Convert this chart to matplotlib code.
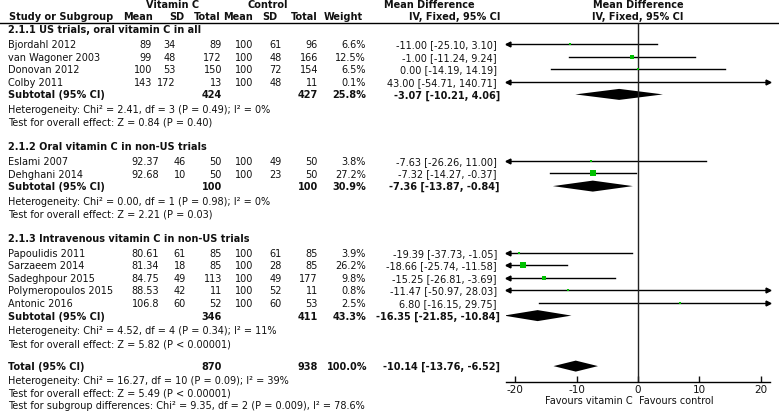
import numpy as np
import matplotlib.pyplot as plt

plt.rcParams['font.family'] = 'DejaVu Sans'

# Datos del forest plot
group_titles = ['2.1.1 US trials, oral vitamin C in all',
                '2.1.2 Oral vitamin C in non-US trials',
                '2.1.3 Intravenous vitamin C in non-US trials']
studies = ['Bjordahl 2012', 'van Wagoner 2003', 'Donovan 2012', 'Colby 2011',
           'Eslami 2007', 'Dehghani 2014',
           'Papoulidis 2011', 'Sarzaeem 2014', 'Sadeghpour 2015',
           'Polymeropoulos 2015', 'Antonic 2016']
study_group = [0, 0, 0, 0, 1, 1, 2, 2, 2, 2, 2]
vc_mean = [89, 99, 100, 143, 92.37, 92.68, 80.61, 81.34, 84.75, 88.53, 106.8]
vc_sd = [34, 48, 53, 172, 46, 10, 61, 18, 49, 42, 60]
vc_n = [89, 172, 150, 13, 50, 50, 85, 85, 113, 11, 52]
ct_mean = [100, 100, 100, 100, 100, 100, 100, 100, 100, 100, 100]
ct_sd = [61, 48, 72, 48, 49, 23, 61, 28, 49, 52, 60]
ct_n = [96, 166, 154, 11, 50, 50, 85, 85, 177, 11, 53]
weight = [6.6, 12.5, 6.5, 0.1, 3.8, 27.2, 3.9, 26.2, 9.8, 0.8, 2.5]
md = [-11.00, -1.00, 0.00, 43.00, -7.63, -7.32, -19.39, -18.66, -15.25, -11.47, 6.80]
ci_lo = [-25.10, -11.24, -14.19, -54.71, -26.26, -14.27, -37.73, -25.74, -26.81, -50.97, -16.15]
ci_hi = [3.10, 9.24, 14.19, 140.71, 11.00, -0.37, -1.05, -11.58, -3.69, 28.03, 29.75]

sub_n_vc = [424, 100, 346]
sub_n_ct = [427, 100, 411]
sub_weight = [25.8, 30.9, 43.3]
sub_md = [-3.07, -7.36, -16.35]
sub_lo = [-10.21, -13.87, -21.85]
sub_hi = [4.06, -0.84, -10.84]
sub_het = ['Heterogeneity: Chi² = 2.41, df = 3 (P = 0.49); I² = 0%',
           'Heterogeneity: Chi² = 0.00, df = 1 (P = 0.98); I² = 0%',
           'Heterogeneity: Chi² = 4.52, df = 4 (P = 0.34); I² = 11%']
sub_test = ['Test for overall effect: Z = 0.84 (P = 0.40)',
            'Test for overall effect: Z = 2.21 (P = 0.03)',
            'Test for overall effect: Z = 5.82 (P < 0.00001)']

total_n_vc = 870
total_n_ct = 938
total_weight = 100.0
total_md, total_lo, total_hi = -10.14, -13.76, -6.52
total_notes = ['Heterogeneity: Chi² = 16.27, df = 10 (P = 0.09); I² = 39%',
               'Test for overall effect: Z = 5.49 (P < 0.00001)',
               'Test for subgroup differences: Chi² = 9.35, df = 2 (P = 0.009), I² = 78.6%']

xticks = [-20, -10, 0, 10, 20]

# Layout (pixeles)
W, H = 779, 415
fs = 7
col = '#111111'
green = '#00c000'
mean_x = [152, 159, 159]
sd_x = [176, 186, 186]
XMIN, XMAX = -21.5, 21.5
axis_y = 382

fig = plt.figure(figsize=(W / 100, H / 100), dpi=100)
ax = fig.add_axes([0, 0, 1, 1])
ax.set_xlim(0, W)
ax.set_ylim(H, 0)
ax.axis('off')

fx = fig.add_axes([506 / W, 0, 264 / W, 1])
fx.set_xlim(XMIN, XMAX)
fx.set_ylim(H, 0)
fx.patch.set_visible(False)
for s in ['left', 'right', 'top']:
    fx.spines[s].set_visible(False)
fx.spines['bottom'].set_position(('data', axis_y))
fx.spines['bottom'].set_linewidth(1)
fx.set_yticks([])
fx.set_xticks(xticks)
fx.set_xticklabels([str(t) for t in xticks])
fx.tick_params(axis='x', direction='in', length=4, width=1, labelsize=7.5, pad=2, colors=col)


def txt(x, y, s, ha='left', bold=False):
    ax.text(x, y, s, ha=ha, va='center', fontsize=fs, color=col,
            fontweight='bold' if bold else 'normal')


def diamond(y, m, lo, hi, h=5.5):
    fx.fill([lo, m, hi, m], [y, y - h, y, y + h], color='black', lw=0)


# Encabezados
txt(173, 5, 'Vitamin C', 'center', True)
txt(268, 5, 'Control', 'center', True)
txt(475, 5, 'Mean Difference', 'right', True)
fx.text(0, 5, 'Mean Difference', ha='center', va='center', fontsize=fs, fontweight='bold', color=col)
txt(9, 17, 'Study or Subgroup', 'left', True)
for x, s in zip([153, 184, 221, 253, 277, 318, 363],
                ['Mean', 'SD', 'Total', 'Mean', 'SD', 'Total', 'Weight']):
    txt(x, 17, s, 'right', True)
txt(500, 17, 'IV, Fixed, 95% CI', 'right', True)
fx.text(0, 17, 'IV, Fixed, 95% CI', ha='center', va='center', fontsize=fs, fontweight='bold', color=col)
ax.plot([0, W], [23, 23], color='black', lw=1)

y = 30
for g in range(3):
    txt(8, y, group_titles[g], bold=True)
    y += 15
    for i in [k for k in range(len(studies)) if study_group[k] == g]:
        txt(8, y, studies[i])
        txt(mean_x[g], y, f'{vc_mean[i]:g}', 'right')
        txt(sd_x[g], y, str(vc_sd[i]), 'right')
        txt(222, y, str(vc_n[i]), 'right')
        txt(253, y, str(ct_mean[i]), 'right')
        txt(282, y, str(ct_sd[i]), 'right')
        txt(318, y, str(ct_n[i]), 'right')
        txt(366, y, f'{weight[i]:.1f}%', 'right')
        txt(497, y, f'{md[i]:.2f} [{ci_lo[i]:.2f}, {ci_hi[i]:.2f}]', 'right')
        # linea del IC
        yl = y - 1
        lo = max(ci_lo[i], XMIN)
        hi = min(ci_hi[i], XMAX)
        fx.plot([lo, hi], [yl, yl], color='black', lw=1)
        if ci_lo[i] < XMIN:
            fx.plot(XMIN + 0.4, yl, marker='<', ms=3.5, color='black', clip_on=False)
        if ci_hi[i] > XMAX:
            fx.plot(XMAX - 0.4, yl, marker='>', ms=3.5, color='black', clip_on=False)
        side = max(2.2, 1.15 * np.sqrt(weight[i]))
        fx.scatter(md[i], yl, marker='s', s=(side * 0.72) ** 2, color=green, lw=0, zorder=3)
        y += 12.6
    txt(8, y, 'Subtotal (95% CI)', bold=True)
    txt(222, y, str(sub_n_vc[g]), 'right', True)
    txt(318, y, str(sub_n_ct[g]), 'right', True)
    txt(366, y, f'{sub_weight[g]:.1f}%', 'right', True)
    txt(500, y, f'{sub_md[g]:.2f} [{sub_lo[g]:.2f}, {sub_hi[g]:.2f}]', 'right', True)
    diamond(y - 1, sub_md[g], sub_lo[g], sub_hi[g])
    y += 14.5
    txt(8, y, sub_het[g])
    y += 13
    txt(8, y, sub_test[g])
    y += 24

y -= 1
txt(8, y, 'Total (95% CI)', bold=True)
txt(222, y, str(total_n_vc), 'right', True)
txt(318, y, str(total_n_ct), 'right', True)
txt(367, y, f'{total_weight:.1f}%', 'right', True)
txt(500, y, f'{total_md:.2f} [{total_lo:.2f}, {total_hi:.2f}]', 'right', True)
diamond(y - 1, total_md, total_lo, total_hi)
y += 13.5
for note in total_notes:
    txt(8, y, note)
    y += 12.8

# Linea vertical en cero
fx.vlines(0, 23, axis_y, color='#222222', lw=1)
fx.text(-0.8, 401, 'Favours vitamin C', ha='right', va='center', fontsize=fs, color=col)
fx.text(0.2, 401, 'Favours control', ha='left', va='center', fontsize=fs, color=col)

fig.savefig('out.png', dpi=100)
